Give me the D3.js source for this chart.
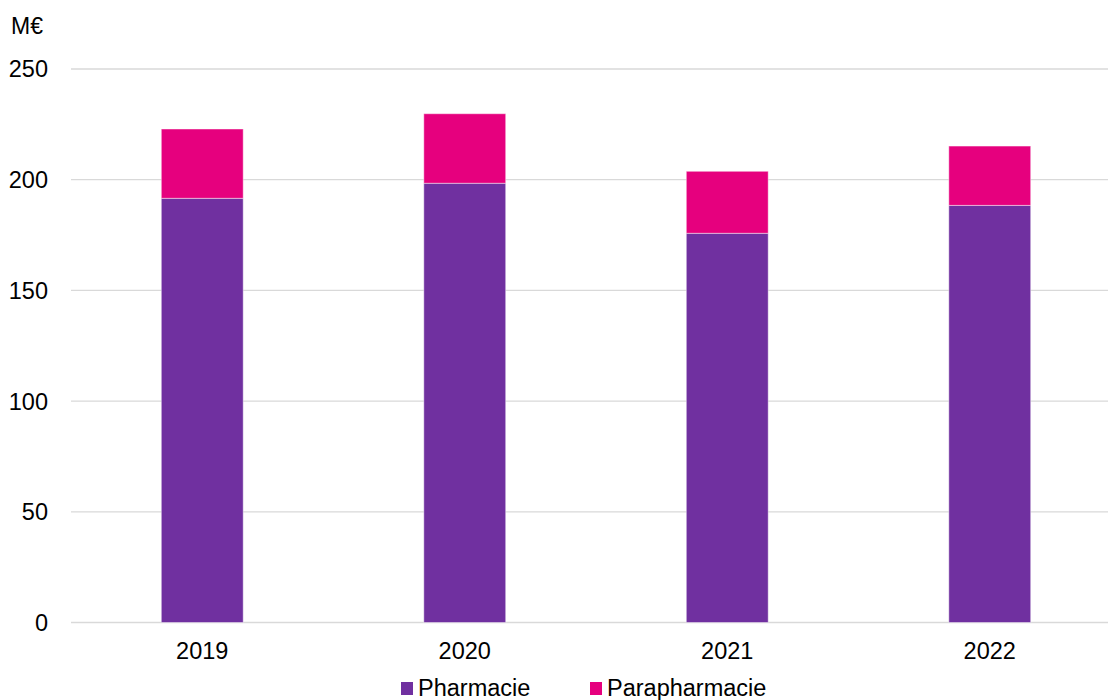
<!DOCTYPE html>
<html>
<head>
<meta charset="utf-8">
<script src="https://cdn.jsdelivr.net/npm/d3@7"></script>
<style>
  html, body { margin: 0; padding: 0; background: #fff; overflow: hidden; }
  svg { display: block; font-family: "Liberation Sans", Arial, sans-serif; }
</style>
</head>
<body>
<svg id="chart" width="1108" height="700"></svg>
<script>
const years = ["2019", "2020", "2021", "2022"];
const pharmacie = [191.6, 198.4, 175.8, 188.4];
const parapharmacie = [31.3, 31.4, 28.0, 26.8];
const yTicks = [0, 50, 100, 150, 200, 250];
const seriesNames = ["Pharmacie", "Parapharmacie"];
const colors = ["#7030A0", "#E6007E"];
const unitLabel = "M€";

const svg = d3.select("#chart");
const left = 71, right = 1121, y0 = 622.5, yTop = 69;

const x = d3.scaleBand().domain(years).range([left, right])
  .paddingInner(0.688).paddingOuter(0.344);
const y = d3.scaleLinear().domain([0, 250]).range([y0, yTop]);

// gridlines
svg.append("g").selectAll("line").data(yTicks).join("line")
  .attr("x1", left).attr("x2", 1108)
  .attr("y1", d => y(d)).attr("y2", d => y(d))
  .attr("stroke", "#d9d9d9").attr("stroke-width", 1.3);

// y labels
svg.append("g").selectAll("text").data(yTicks).join("text")
  .attr("x", 48).attr("y", d => y(d)).attr("dy", "0.36em")
  .attr("text-anchor", "end").attr("font-size", 23.5).attr("fill", "#000")
  .text(d => d);

svg.append("text").attr("x", 11).attr("y", 34).attr("font-size", 23)
  .attr("fill", "#000").text(unitLabel);

// stacked bars
const data = years.map((yr, i) => ({ year: yr, Pharmacie: pharmacie[i], Parapharmacie: parapharmacie[i] }));
const stack = d3.stack().keys(seriesNames)(data);
svg.append("g").selectAll("g").data(stack).join("g")
  .attr("fill", (d, i) => colors[i])
  .selectAll("rect").data(d => d).join("rect")
  .attr("x", d => x(d.data.year))
  .attr("width", x.bandwidth())
  .attr("y", d => y(d[1]))
  .attr("height", d => y(d[0]) - y(d[1]))
  .attr("stroke", "#ffffff").attr("stroke-opacity", 0.45).attr("stroke-width", 1);

// x labels
svg.append("g").selectAll("text").data(years).join("text")
  .attr("x", d => x(d) + x.bandwidth() / 2).attr("y", 659)
  .attr("text-anchor", "middle").attr("font-size", 23.5).attr("fill", "#000")
  .text(d => d);

// legend
const legendX = [401, 590];
const lg = svg.append("g").selectAll("g").data(seriesNames).join("g")
  .attr("transform", (d, i) => `translate(${legendX[i]},0)`);
lg.append("rect").attr("x", 0).attr("y", 682).attr("width", 12).attr("height", 13)
  .attr("fill", (d, i) => colors[i]);
lg.append("text").attr("x", 17).attr("y", 696).attr("font-size", 23.5)
  .attr("fill", "#000").text(d => d);
</script>
</body>
</html>
